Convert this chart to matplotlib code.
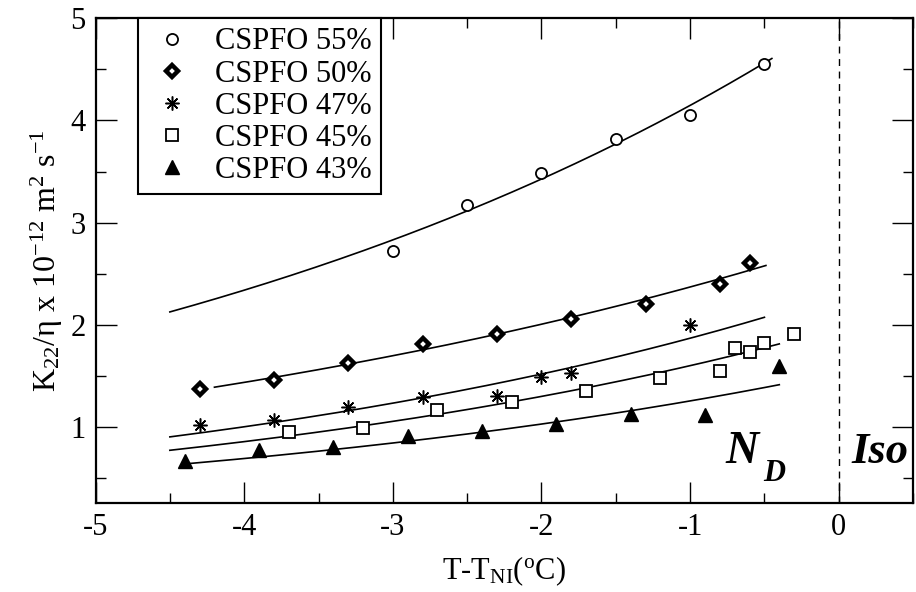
import numpy as np
import matplotlib
matplotlib.use("Agg")
import matplotlib.pyplot as plt
from matplotlib.ticker import MultipleLocator

plt.rcParams['font.family'] = ['Liberation Serif', 'DejaVu Serif']
plt.rcParams['mathtext.fontset'] = 'custom'
plt.rcParams['mathtext.rm'] = 'Liberation Serif'
plt.rcParams['mathtext.it'] = 'Liberation Serif:italic'
plt.rcParams['mathtext.bf'] = 'Liberation Serif:bold'

# ---- data ----
labels = ["CSPFO 55%", "CSPFO 50%", "CSPFO 47%", "CSPFO 45%", "CSPFO 43%"]

x55 = [-3.0, -2.5, -2.0, -1.5, -1.0, -0.5]
y55 = [2.72, 3.17, 3.49, 3.82, 4.05, 4.55]

x50 = [-4.3, -3.8, -3.3, -2.8, -2.3, -1.8, -1.3, -0.8, -0.6]
y50 = [1.37, 1.46, 1.63, 1.81, 1.91, 2.06, 2.20, 2.40, 2.60]

x47 = [-4.3, -3.8, -3.3, -2.8, -2.3, -2.0, -1.8, -1.0]
y47 = [1.02, 1.07, 1.19, 1.29, 1.30, 1.49, 1.53, 2.00]

x45 = [-3.7, -3.2, -2.7, -2.2, -1.7, -1.2, -0.8, -0.7, -0.6, -0.5, -0.3]
y45 = [0.95, 0.99, 1.17, 1.24, 1.35, 1.48, 1.55, 1.77, 1.73, 1.82, 1.91]

x43 = [-4.4, -3.9, -3.4, -2.9, -2.4, -1.9, -1.4, -0.9, -0.4]
y43 = [0.67, 0.77, 0.80, 0.91, 0.96, 1.03, 1.13, 1.12, 1.60]

# fitted curves y = A*exp(B*x), parameters estimated from the drawn lines
fit_A = [5.02, 2.80, 2.30, 1.97, 1.53]
fit_B = [0.191, 0.167, 0.208, 0.2085, 0.199]
fit_x0 = [-4.5, -4.2, -4.5, -4.5, -4.37]
fit_x1 = [-0.45, -0.49, -0.5, -0.4, -0.4]

xticks = [-5, -4, -3, -2, -1, 0]
yticks = [1, 2, 3, 4, 5]

# ---- figure ----
fig = plt.figure(figsize=(9.16, 5.92), dpi=100)
ax = fig.add_axes([0.1043, 0.1495, 0.8925, 0.8196])

xs_all = [x55, x50, x47, x45, x43]
ys_all = [y55, y50, y47, y45, y43]
styles = [
    dict(marker='o', ms=8, mfc='white', mec='black', mew=1.3),
    dict(marker='D', ms=6.3, mfc='white', mec='black', mew=3.2),
    dict(marker=(8, 2, 0), ms=10, mfc='black', mec='black', mew=1.1),
    dict(marker='s', ms=8, mfc='white', mec='black', mew=1.3),
    dict(marker='^', ms=9.5, mfc='black', mec='black', mew=1.0),
]

for i in range(5):
    xf = np.linspace(fit_x0[i], fit_x1[i], 200)
    ax.plot(xf, fit_A[i] * np.exp(fit_B[i] * xf), color='black', lw=1.2, zorder=2)

for xs, ys, st, lab in zip(xs_all, ys_all, styles, labels):
    ax.plot(xs, ys, linestyle='none', label=lab, zorder=3, **st)

ax.axvline(0, color='black', lw=1.0, linestyle=(0, (5, 4)), zorder=1)

ax.set_xlim(-5, 0.5)
ax.set_ylim(0.25, 5)
ax.set_xticks(xticks)
ax.set_yticks(yticks)
ax.set_xticklabels([str(t) for t in xticks])
ax.set_yticklabels([str(t) for t in yticks])
ax.xaxis.set_minor_locator(MultipleLocator(0.5))
ax.yaxis.set_minor_locator(MultipleLocator(0.5))
ax.tick_params(which='both', direction='in', top=True, right=True, width=1.0, labelsize=22)
ax.tick_params(which='major', length=15, pad=7)
ax.tick_params(which='minor', length=7.5)
for s in ax.spines.values():
    s.set_linewidth(1.6)

ax.set_xlabel(r'T-T$_{\mathrm{NI}}$($^{\mathrm{o}}$C)', fontsize=22, labelpad=9)
ax.set_ylabel(r'K$_{22}$/η x 10$^{-12}$ m$^{2}$ s$^{-1}$', fontsize=23, labelpad=4)

ax.text(-0.76, 0.643, 'N', fontsize=33, fontweight='bold', fontstyle='italic', ha='left', va='baseline')
ax.text(-0.51, 0.47, 'D', fontsize=22, fontweight='bold', fontstyle='italic', ha='left', va='baseline')
ax.text(0.087, 0.643, 'Iso', fontsize=32, fontweight='bold', fontstyle='italic', ha='left', va='baseline')

leg = ax.legend(loc='upper left', bbox_to_anchor=(0.0524, 1.0), borderaxespad=0,
                fontsize=22, frameon=True, fancybox=False, framealpha=1, edgecolor='black',
                handlelength=1.6, handletextpad=0.6, borderpad=0.3, labelspacing=0.1,
                numpoints=1)
leg.get_frame().set_linewidth(1.5)

fig.savefig('out.png', dpi=100)
